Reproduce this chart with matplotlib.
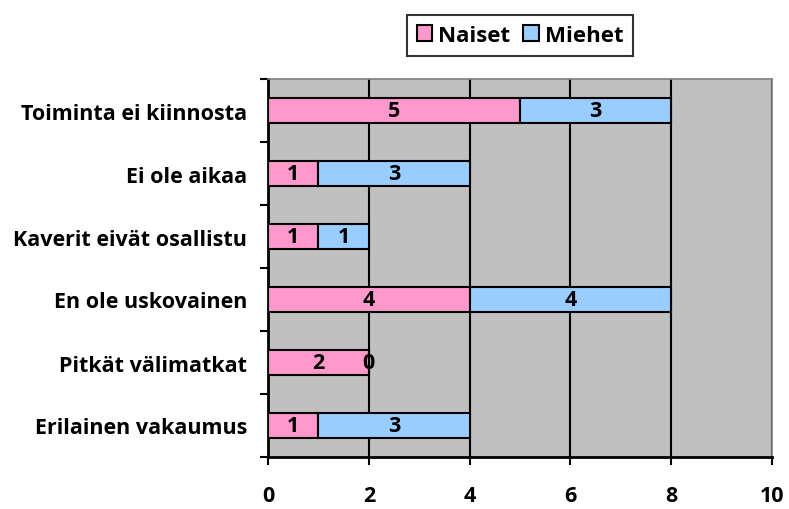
import numpy as np
import matplotlib
matplotlib.use('Agg')
import matplotlib.pyplot as plt
from matplotlib.patches import Patch

# Data (top to bottom as shown)
categories = ['Toiminta ei kiinnosta', 'Ei ole aikaa', 'Kaverit eivät osallistu',
              'En ole uskovainen', 'Pitkät välimatkat', 'Erilainen vakaumus']
naiset = [5, 1, 1, 4, 2, 1]
miehet = [3, 3, 1, 4, 0, 3]
series_names = ['Naiset', 'Miehet']
x_ticks = [0, 2, 4, 6, 8, 10]

PINK = '#FF99CC'
BLUE = '#99CCFF'
GRAY = '#C0C0C0'
FS = 15.5

plt.rcParams['font.family'] = ['Open Sans', 'DejaVu Sans']
plt.rcParams['font.weight'] = 'bold'

fig = plt.figure(figsize=(7.89, 5.10), dpi=100)
ax = fig.add_axes([268 / 789, 1 - 458 / 510, (772 - 268) / 789, (458 - 80) / 510])
ax.set_facecolor(GRAY)

y = np.arange(len(categories))[::-1]
h = 0.4
b1 = ax.barh(y, naiset, height=h, color=PINK, edgecolor='black', linewidth=1.5, zorder=3)
b2 = ax.barh(y, miehet, left=naiset, height=h, color=BLUE, edgecolor='black', linewidth=1.5, zorder=3)
ax.bar_label(b1, label_type='center', fontsize=FS, fontweight='bold', zorder=4)
ax.bar_label(b2, label_type='center', fontsize=FS, fontweight='bold', zorder=4)

ax.set_xlim(0, 10)
ax.set_ylim(-0.5, len(categories) - 0.5)
ax.set_xticks(x_ticks)
ax.set_xticklabels([str(t) for t in x_ticks], fontsize=FS, fontweight='bold')
ax.xaxis.grid(True, color='black', linewidth=1.5, zorder=1)
ax.set_axisbelow(True)

ax.set_yticks(y)
ax.set_yticklabels(categories, fontsize=FS, fontweight='bold')
ax.tick_params(axis='y', length=0, pad=15)
ax.set_yticks(np.arange(len(categories) + 1) - 0.5, minor=True)
ax.tick_params(axis='y', which='minor', length=6, width=1.5, direction='out')
ax.tick_params(axis='x', length=6, width=1.5, direction='out', pad=14)

for s in ['left', 'bottom']:
    ax.spines[s].set_color('black')
    ax.spines[s].set_linewidth(2)
for s in ['top', 'right']:
    ax.spines[s].set_color('#808080')
    ax.spines[s].set_linewidth(1.2)

handles = [Patch(facecolor=PINK, edgecolor='black', linewidth=1.5),
           Patch(facecolor=BLUE, edgecolor='black', linewidth=1.5)]
leg = fig.legend(handles, series_names, loc='center', bbox_to_anchor=(520 / 789, 1 - 36 / 510),
                 ncol=2, frameon=True, fancybox=False, prop={'size': 16, 'weight': 'bold'},
                 handlelength=0.7, handleheight=0.7, handletextpad=0.25, columnspacing=0.6,
                 borderpad=0.45, borderaxespad=0)
leg.get_frame().set_edgecolor('black')
leg.get_frame().set_linewidth(1.5)

fig.savefig('out.png', dpi=100)
